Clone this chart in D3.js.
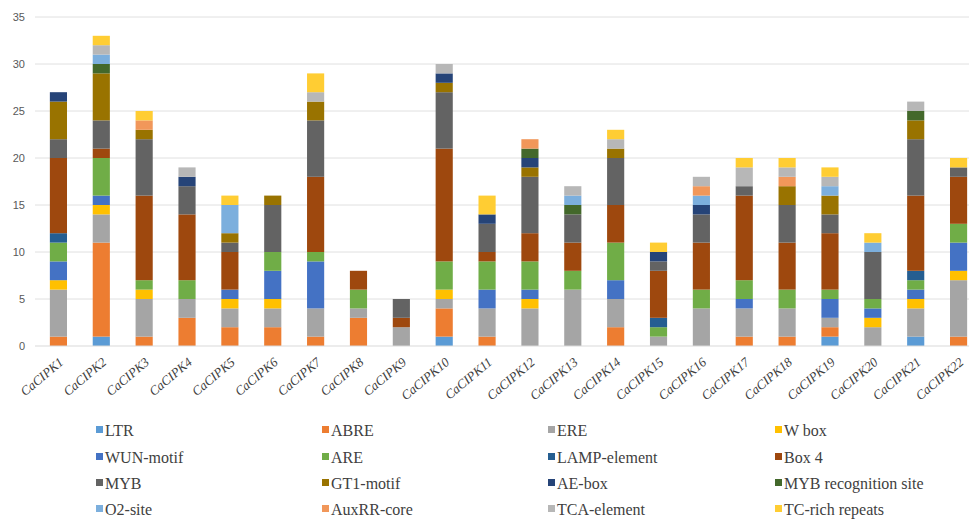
<!DOCTYPE html>
<html>
<head>
<meta charset="utf-8">
<script src="https://cdn.jsdelivr.net/npm/d3@7"></script>
<style>
  html, body { margin: 0; padding: 0; background: #ffffff; }
  svg { display: block; }
</style>
</head>
<body>
<svg id="chart" width="969" height="519"></svg>
<script>
// Gene names along the x axis
const genes = ["CaCIPK1","CaCIPK2","CaCIPK3","CaCIPK4","CaCIPK5","CaCIPK6","CaCIPK7","CaCIPK8",
  "CaCIPK9","CaCIPK10","CaCIPK11","CaCIPK12","CaCIPK13","CaCIPK14","CaCIPK15","CaCIPK16",
  "CaCIPK17","CaCIPK18","CaCIPK19","CaCIPK20","CaCIPK21","CaCIPK22"];

// cis-element counts per gene, one array per element (stack order, bottom to top)
const LTR        = [0,1,0,0,0,0,0,0,0,1,0,0,0,0,0,0,0,0,1,0,1,0];
const ABRE       = [1,10,1,3,2,2,1,3,0,3,1,0,0,2,0,0,1,1,1,0,0,1];
const ERE        = [5,3,4,2,2,2,3,1,2,1,3,4,6,3,1,4,3,3,1,2,3,6];
const WBox       = [1,1,1,0,1,1,0,0,0,1,0,1,0,0,0,0,0,0,0,1,1,1];
const WUN        = [2,1,0,0,1,3,5,0,0,0,2,1,0,2,0,0,1,0,2,1,1,3];
const ARE        = [2,4,1,2,0,2,1,2,0,3,3,3,2,4,1,2,2,2,1,1,1,2];
const LAMP       = [1,0,0,0,0,0,0,0,0,0,0,0,0,0,1,0,0,0,0,0,1,0];
const Box4       = [8,1,9,7,4,0,8,2,1,12,1,3,3,4,5,5,9,5,6,0,8,5];
const MYB        = [2,3,6,3,1,5,6,0,2,6,3,6,3,5,1,3,1,4,2,5,6,1];
const GT1        = [4,5,1,0,1,1,2,0,0,1,0,1,0,1,0,0,0,2,2,0,2,0];
const AEBox      = [1,0,0,1,0,0,0,0,0,1,1,1,0,0,1,1,0,0,0,0,0,0];
const MYBRec     = [0,1,0,0,0,0,0,0,0,0,0,1,1,0,0,0,0,0,0,0,1,0];
const O2Site     = [0,1,0,0,3,0,0,0,0,0,0,0,1,0,0,1,0,0,1,1,0,0];
const AuxRR      = [0,0,1,0,0,0,0,0,0,0,0,1,0,0,0,1,0,1,0,0,0,0];
const TCA        = [0,1,0,1,0,0,1,0,0,1,0,0,1,1,0,1,2,1,1,0,1,0];
const TCRich     = [0,1,1,0,1,0,2,0,0,0,2,0,0,1,1,0,1,1,1,1,0,1];

const seriesNames = ["LTR","ABRE","ERE","W box","WUN-motif","ARE","LAMP-element","Box 4",
  "MYB","GT1-motif","AE-box","MYB recognition site","O2-site","AuxRR-core","TCA-element","TC-rich repeats"];
const seriesValues = [LTR, ABRE, ERE, WBox, WUN, ARE, LAMP, Box4, MYB, GT1, AEBox, MYBRec, O2Site, AuxRR, TCA, TCRich];
const seriesColors = ["#5B9BD5","#ED7D31","#A5A5A5","#FFC000","#4472C4","#70AD47","#255E91","#9E480E",
  "#636363","#997300","#264478","#43682B","#7CAFDD","#F1975A","#B7B7B7","#FFCD33"];

const yTicks = [0,5,10,15,20,25,30,35];

// Build table rows for the stack layout
const rows = genes.map((g, i) => {
  const r = { gene: g };
  seriesNames.forEach((s, k) => { r[s] = seriesValues[k][i]; });
  return r;
});

const svg = d3.select("#chart");

const x = d3.scaleBand().domain(genes).range([37, 980]).paddingInner(0.6).paddingOuter(0.3);
const y = d3.scaleLinear().domain([0, 35]).range([346, 17]);
const color = d3.scaleOrdinal().domain(seriesNames).range(seriesColors);

// Horizontal gridlines
svg.append("g")
  .selectAll("line")
  .data(yTicks.filter(t => t > 0))
  .join("line")
  .attr("x1", 35).attr("x2", 969)
  .attr("y1", d => y(d)).attr("y2", d => y(d))
  .attr("stroke", "#e0e0e0").attr("stroke-width", 1);

// Y axis labels
const yAxis = d3.axisLeft(y).tickValues(yTicks).tickSize(0).tickPadding(0);
const yG = svg.append("g").attr("transform", "translate(25,0)").call(yAxis);
yG.select(".domain").remove();
yG.selectAll("text")
  .attr("font-family", "Liberation Sans, Arial, sans-serif")
  .attr("font-size", 11)
  .attr("fill", "#595959");

// Stacked bars
const stacked = d3.stack().keys(seriesNames)(rows);
svg.append("g")
  .selectAll("g")
  .data(stacked)
  .join("g")
  .attr("fill", d => color(d.key))
  .selectAll("rect")
  .data(d => d)
  .join("rect")
  .attr("x", d => x(d.data.gene))
  .attr("width", x.bandwidth())
  .attr("y", d => y(d[1]))
  .attr("height", d => y(d[0]) - y(d[1]));

// Baseline
svg.append("line")
  .attr("x1", 35).attr("x2", 969)
  .attr("y1", y(0)).attr("y2", y(0))
  .attr("stroke", "#d9d9d9").attr("stroke-width", 1);

// Category labels, rotated
const xAxis = d3.axisBottom(x).tickSize(0).tickPadding(0);
const xG = svg.append("g").attr("transform", `translate(0,${y(0) + 14})`).call(xAxis);
xG.select(".domain").remove();
xG.selectAll("text")
  .attr("font-family", "Liberation Serif, Times New Roman, serif")
  .attr("font-style", "italic")
  .attr("font-size", 13)
  .attr("fill", "#404040")
  .attr("text-anchor", "end")
  .attr("dy", "0.35em")
  .attr("transform", "translate(3,0) rotate(-40)");

// Legend: 4 columns x 4 rows
const legendCols = [96, 322, 548, 775];
const legendRows = [430, 457, 483, 509];
const legend = svg.append("g")
  .selectAll("g")
  .data(seriesNames)
  .join("g")
  .attr("transform", (d, i) => `translate(${legendCols[i % 4]},${legendRows[Math.floor(i / 4)]})`);
legend.append("rect")
  .attr("x", 0).attr("y", -4)
  .attr("width", 7).attr("height", 7)
  .attr("fill", d => color(d));
legend.append("text")
  .attr("x", 9).attr("y", 0)
  .attr("dy", "0.35em")
  .attr("font-family", "Liberation Serif, Times New Roman, serif")
  .attr("font-size", 16)
  .attr("fill", "#404040")
  .text(d => d);
</script>
</body>
</html>
